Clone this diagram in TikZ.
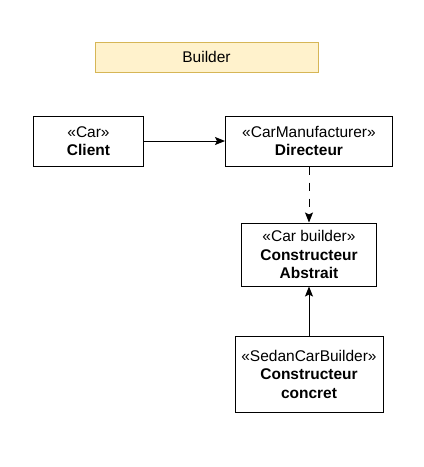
\documentclass[tikz,border=0pt]{standalone}
\usepackage{fontspec}
\setmainfont{Liberation Sans}
\usetikzlibrary{arrows.meta,positioning}
\definecolor{notefill}{RGB}{255,242,204}
\definecolor{notedraw}{RGB}{214,182,86}

\begin{document}
\begin{tikzpicture}[
  x=1pt, y=-1pt,
  block/.style={draw, line width=1pt, fill=white, align=center,
                font=\fontsize{15.5pt}{18.5pt}\selectfont, inner sep=0pt},
  arr/.style={-{Stealth[length=10pt, width=8pt, inset=2pt]}, line width=1pt},
  node distance=0.4cm
]
  \useasboundingbox (0,0) rectangle (424,467);

  % title
  \node[block, draw=notedraw, fill=notefill, minimum width=223pt,
        minimum height=30pt] (title) at (206.5,57) {Builder};

  % top row
  \node[block, minimum width=110pt, minimum height=50pt] (client)
    at (88.5,141) {«Car»\\\textbf{Client}};
  \node[block, minimum width=167pt, minimum height=50pt, right=81pt of client]
    (dir) {«CarManufacturer»\\\textbf{Directeur}};

  % builders
  \node[block, minimum width=135pt, minimum height=63pt, below=56pt of dir]
    (abs) {«Car builder»\\\textbf{Constructeur}\\\textbf{Abstrait}};
  \node[block, minimum width=148pt, minimum height=76pt, below=49pt of abs]
    (conc) {«SedanCarBuilder»\\\textbf{Constructeur}\\\textbf{concret}};

  % Arrows
  \draw[arr] (client) -- (dir);
  \draw[arr, dash pattern=on 8pt off 8pt] (dir) -- (abs);
  \draw[arr] (conc) -- (abs);

\end{tikzpicture}
\end{document}
